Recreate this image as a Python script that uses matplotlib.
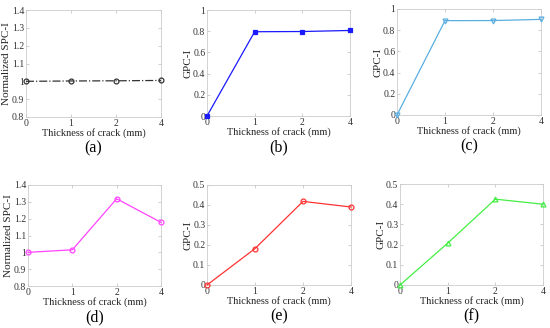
import numpy as np
import matplotlib.pyplot as plt

plt.rcParams['font.family'] = ['Liberation Serif', 'DejaVu Serif']

thickness = ['0', '1', '2', '4']

spc_a = [1.000, 1.002, 1.003, 1.005]
gpc_b = [0.0, 0.795, 0.797, 0.807]
gpc_c = [0.0, 0.890, 0.891, 0.902]
spc_d = [1.000, 1.015, 1.318, 1.178]
gpc_e = [0.0, 0.182, 0.418, 0.390]
gpc_f = [0.0, 0.207, 0.425, 0.400]

panels = [
    # data, ylabel, ylim, yticks, color, marker, label, axes rect (px)
    (spc_a, 'Normalized SPC-I', (0.8, 1.4), np.arange(0.8, 1.41, 0.1), '#333333', 'o', '(a)', (26, 10, 161, 117)),
    (gpc_b, 'GPC-I', (0, 1), np.arange(0, 1.01, 0.2), '#1a1aff', 's', '(b)', (207, 10, 350, 116)),
    (gpc_c, 'GPC-I', (0, 1), np.arange(0, 1.01, 0.2), '#5aaee0', 'v', '(c)', (397, 9, 541, 115)),
    (spc_d, 'Normalized SPC-I', (0.8, 1.4), np.arange(0.8, 1.41, 0.1), '#ff44ff', 'o', '(d)', (28, 185, 161, 286)),
    (gpc_e, 'GPC-I', (0, 0.5), np.arange(0, 0.51, 0.1), '#ff3333', 'o', '(e)', (207, 185, 351, 285)),
    (gpc_f, 'GPC-I', (0, 0.5), np.arange(0, 0.51, 0.1), '#44ee44', '^', '(f)', (400, 184, 543, 285)),
]

W, H = 550, 328
fig = plt.figure(figsize=(W / 100, H / 100), dpi=100)

x = np.arange(len(thickness))
for vals, ylab, ylim, yt, col, mk, lab, (l, t, r, b) in panels:
    ax = fig.add_axes([l / W, 1 - b / H, (r - l) / W, (b - t) / H])
    ls = '-.' if lab == '(a)' else '-'
    filled = col if lab == '(b)' else 'none'
    ax.plot(x, vals, color=col, marker=mk, markersize=3.5, markerfacecolor=filled,
            markeredgewidth=0.9, linewidth=0.9, linestyle=ls, clip_on=False, zorder=3)
    ax.set_xlim(0, 3)
    ax.set_ylim(*ylim)
    ax.set_xticks(x)
    ax.set_xticklabels(thickness)
    ax.set_yticks(yt)
    ax.set_yticklabels([('%g' % round(v, 2)) for v in yt])
    ax.tick_params(direction='in', length=2, width=0.5, labelsize=7, pad=1.2,
                   colors='#bbbbbb', labelcolor='#333333', top=True, right=True)
    for s in ax.spines.values():
        s.set_color('#cccccc')
        s.set_linewidth(0.6)
    ax.set_ylabel(ylab, fontsize=8, labelpad=0.5, color='#222222')
    ax.set_xlabel('Thickness of crack (mm)', fontsize=7.5, labelpad=0.5, color='#222222')
    fig.text((l + r) / 2 / W, 1 - (b + 31) / H, lab, ha='center', va='center', fontsize=11.5)

fig.savefig('out.png', dpi=100)
